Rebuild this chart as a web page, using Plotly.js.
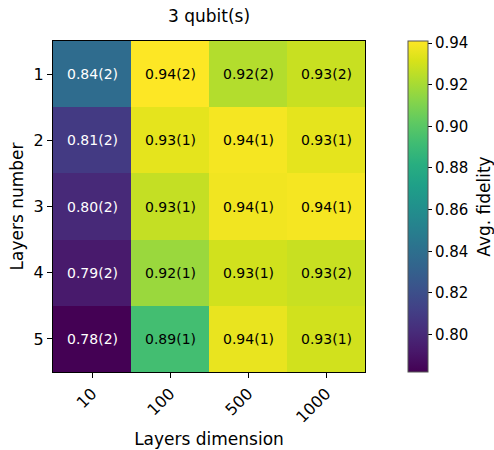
<!DOCTYPE html>
<html>
<head>
<meta charset="utf-8">
<script src="https://cdn.plot.ly/plotly-3.0.1.min.js"></script>
<style>html,body{margin:0;padding:0;background:#fff;}</style>
</head>
<body>
<div id="chart" style="width:494px;height:450px;"></div>
<script>
// Average fidelity for 3 qubits, by layer dimension (columns) and number of layers (rows)
const layerDims = ['10', '100', '500', '1000'];
const layerNums = ['1', '2', '3', '4', '5'];
const fidelity = [
  [0.838, 0.941, 0.923, 0.928],
  [0.809, 0.935, 0.939, 0.935],
  [0.800, 0.927, 0.938, 0.939],
  [0.793, 0.917, 0.930, 0.928],
  [0.782, 0.893, 0.936, 0.930]
];
const labels = [
  ['0.84(2)', '0.94(2)', '0.92(2)', '0.93(2)'],
  ['0.81(2)', '0.93(1)', '0.94(1)', '0.93(1)'],
  ['0.80(2)', '0.93(1)', '0.94(1)', '0.94(1)'],
  ['0.79(2)', '0.92(1)', '0.93(1)', '0.93(2)'],
  ['0.78(2)', '0.89(1)', '0.94(1)', '0.93(1)']
];
const cbTicks = [0.80, 0.82, 0.84, 0.86, 0.88, 0.90, 0.92, 0.94];

const zMin = Math.min(...fidelity.flat());
const zMax = Math.max(...fidelity.flat());
const font = 'DejaVu Sans, sans-serif';

// Cells sit at integer positions; tick text carries the category names
const colIdx = layerDims.map((_, j) => j);
const rowIdx = layerNums.map((_, i) => i);

// Cell labels: white on the dark half of the colour scale, black on the light half
const annotations = [];
rowIdx.forEach(i => {
  colIdx.forEach(j => {
    const t = (fidelity[i][j] - zMin) / (zMax - zMin);
    annotations.push({
      x: j, y: i, xref: 'x', yref: 'y',
      text: labels[i][j], showarrow: false,
      font: {family: font, size: 14, color: t < 0.5 ? '#ffffff' : '#000000'}
    });
  });
});

// Colour bar label, set to the right of the bar's tick labels
annotations.push({
  x: 1.379, y: 0.5, xref: 'paper', yref: 'paper',
  xanchor: 'center', yanchor: 'middle',
  text: 'Avg. fidelity', textangle: -90, showarrow: false,
  font: {family: font, size: 17, color: '#000'}
});

const trace = {
  type: 'heatmap',
  x: colIdx,
  y: rowIdx,
  z: fidelity,
  zmin: zMin,
  zmax: zMax,
  colorscale: 'Viridis',
  hoverinfo: 'skip',
  colorbar: {
    x: 1.138, xanchor: 'left', xref: 'paper',
    y: 0.5, yanchor: 'middle', len: 1, lenmode: 'fraction',
    xpad: 0, ypad: 0,
    thickness: 20, thicknessmode: 'pixels',
    outlinewidth: 1, outlinecolor: '#555',
    tickvals: cbTicks, tickformat: '.2f',
    ticks: 'outside', ticklen: 4, tickcolor: '#000',
    tickfont: {family: font, size: 15, color: '#000'}
  }
};

const layout = {
  width: 494, height: 450,
  margin: {l: 53, r: 129, t: 41, b: 78, autoexpand: false},
  paper_bgcolor: '#fff', plot_bgcolor: '#fff',
  title: {text: '3 qubit(s)', x: 0.5, xref: 'paper', y: 0.965, yanchor: 'middle',
          font: {family: font, size: 17, color: '#000'}},
  xaxis: {
    range: [-0.5, layerDims.length - 0.5],
    tickvals: colIdx, ticktext: layerDims, tickangle: -45,
    ticks: 'outside', ticklen: 5, tickcolor: '#000',
    showline: true, linecolor: '#000', linewidth: 1, mirror: true,
    showgrid: false, zeroline: false,
    tickfont: {family: font, size: 16, color: '#000'},
    title: {text: 'Layers dimension', standoff: 7, font: {family: font, size: 17, color: '#000'}}
  },
  yaxis: {
    range: [layerNums.length - 0.5, -0.5],
    tickvals: rowIdx, ticktext: layerNums,
    ticks: 'outside', ticklen: 5, tickcolor: '#000',
    showline: true, linecolor: '#000', linewidth: 1, mirror: true,
    showgrid: false, zeroline: false,
    tickfont: {family: font, size: 16, color: '#000'},
    title: {text: 'Layers number', standoff: 5, font: {family: font, size: 17, color: '#000'}}
  },
  annotations: annotations
};

Plotly.newPlot('chart', [trace], layout, {displayModeBar: false, staticPlot: true});
</script>
</body>
</html>
